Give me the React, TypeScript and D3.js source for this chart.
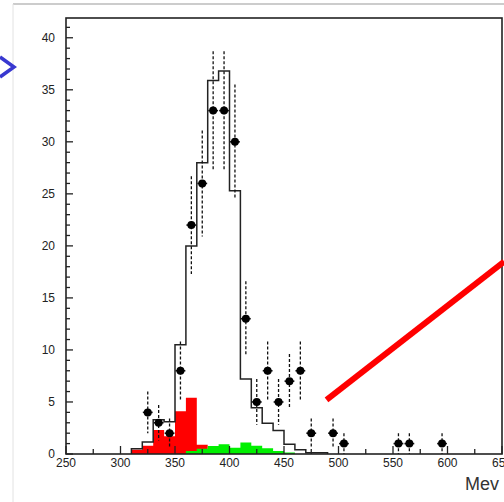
import React from 'react';
import {scaleLinear, range, line} from 'd3';

// histogram bins are 10 MeV wide
const binWidth = 10;
const outlineStart = 310;
const outlineCounts = [0.5, 1.15, 3.3, 3.1, 10.5, 20, 28, 35.9, 36.8, 25.3, 7.2, 4.45, 2.95, 2.25, 0.93, 0.4, 0.13, 0.13];
const redStart = 310;
const redCounts = [0.4, 0.8, 2.3, 1.7, 4.1, 5.4, 0.9];
const greenStart = 360;
const greenCounts = [0.3, 0.5, 0.77, 0.93, 0.6, 1.1, 0.8, 0.55, 0.3, 0.15];

// measured points
const pointE = [325, 335, 345, 355, 365, 375, 385, 395, 405, 415, 425, 435, 445, 455, 465, 475, 495, 505, 555, 565, 595];
const pointN = [4, 3, 2, 8, 22, 26, 33, 33, 30, 13, 5, 8, 5, 7, 8, 2, 2, 1, 1, 1, 1];
const pointErr = [2, 1.7, 1.4, 2.8, 4.7, 5.1, 5.7, 5.7, 5.5, 3.6, 2.2, 2.8, 2.2, 2.6, 2.8, 1.4, 1.4, 1, 1, 1, 1];

const xTickLabels = [250, 300, 350, 400, 450, 500, 550, 600, 650];
const yTickLabels = [0, 5, 10, 15, 20, 25, 30, 35, 40];

// red annotation stroke, in data units
const arrowLine = [[489, 5.2], [652, 18.5]];

const W = 504, H = 502;

const x = scaleLinear().domain([250, 650]).range([66, 502]);
const y = scaleLinear().domain([0, 41.9]).range([454, 18]);

const stepPath = (start: number, counts: number[], closed: boolean) => {
    let d = `M${x(start)},${y(0)}`;
    counts.forEach((c, i) => {
        d += `L${x(start + i * binWidth)},${y(c)}L${x(start + (i + 1) * binWidth)},${y(c)}`;
    });
    d += `L${x(start + counts.length * binWidth)},${y(0)}`;
    return closed ? d + 'Z' : d;
};

const App = () => {
    const font = '"Liberation Sans", Arial, sans-serif';
    const lineGen = line<number[]>().x(d => x(d[0])).y(d => y(d[1]));

    return (
        <svg width={W} height={H} style={{position: 'absolute', left: 0, top: 0, background: '#fff'}}>
            {/* page frame */}
            <line x1={13} y1={4} x2={W} y2={4} stroke="#999" strokeWidth={1}/>
            <line x1={13} y1={4} x2={13} y2={H} stroke="#e2e2e2" strokeWidth={1}/>
            <polyline points="0,57 14,67 0,77" fill="none" stroke="#3838d0" strokeWidth={3.5}/>

            {/* filled components */}
            <path d={stepPath(redStart, redCounts, true)} fill="#ff0000" stroke="none"/>
            <path d={stepPath(greenStart, greenCounts, true)} fill="#00f000" stroke="none"/>
            {/* total histogram */}
            <path d={stepPath(outlineStart, outlineCounts, false)} fill="none" stroke="#222" strokeWidth={1.5}/>

            {/* axes frame */}
            <rect x={x(250)} y={y(41.9)} width={x(650) - x(250)} height={y(0) - y(41.9)}
                  fill="none" stroke="#222" strokeWidth={1.6}/>
            {range(0, 42).map(v => (
                <line key={'yt' + v} x1={x(250)} x2={x(250) + (v % 5 === 0 ? 7 : 4)} y1={y(v)} y2={y(v)}
                      stroke="#222" strokeWidth={1.3}/>
            ))}
            {range(250, 651, 25).map(v => (
                <line key={'xt' + v} x1={x(v)} x2={x(v)} y1={y(0)} y2={y(0) - (v % 50 === 0 ? 8 : 5)}
                      stroke="#222" strokeWidth={1.3}/>
            ))}
            {yTickLabels.map(v => (
                <text key={'yl' + v} x={55} y={y(v)} dy="0.35em" textAnchor="end"
                      fontFamily={font} fontSize={12} fill="#222">{v}</text>
            ))}
            {xTickLabels.map(v => (
                <text key={'xl' + v} x={x(v)} y={467} textAnchor="middle"
                      fontFamily={font} fontSize={12} fill="#222">{v}</text>
            ))}
            <text x={465} y={490} fontFamily={font} fontSize={18} fill="#333">Mev</text>

            {/* data points */}
            {pointE.map((e, i) => (
                <g key={'p' + i}>
                    <line x1={x(e)} x2={x(e)} y1={y(pointN[i] + pointErr[i])} y2={y(Math.max(0, pointN[i] - pointErr[i]))}
                          stroke="#111" strokeWidth={1.3} strokeDasharray="3,2"/>
                    <line x1={x(e - 4.5)} x2={x(e + 4.5)} y1={y(pointN[i])} y2={y(pointN[i])}
                          stroke="#111" strokeWidth={1.6}/>
                    <circle cx={x(e)} cy={y(pointN[i])} r={4} fill="#000"/>
                </g>
            ))}

            <path d={lineGen(arrowLine) || ''} stroke="#ff0000" strokeWidth={6} fill="none"/>
        </svg>
    );
};

export default App;
